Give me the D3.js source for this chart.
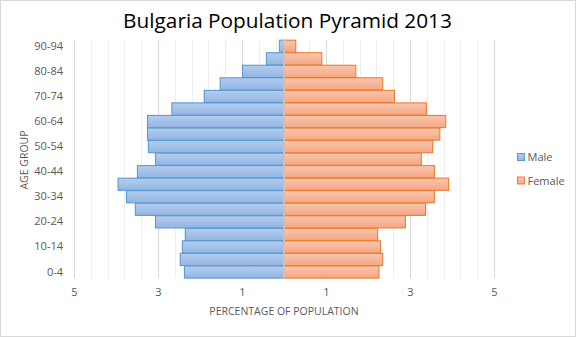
<!DOCTYPE html>
<html>
<head>
<meta charset="utf-8">
<script src="https://cdn.jsdelivr.net/npm/d3@7"></script>
<style>
  html, body { margin: 0; padding: 0; background: #fff; }
  svg { display: block; }
  text { font-family: "Open Sans", "Liberation Sans", sans-serif; }
</style>
</head>
<body>
<svg id="chart" width="576" height="337"></svg>
<script>
// Age groups, youngest first
const ageGroups = ["0-4", "5-9", "10-14", "15-19", "20-24", "25-29", "30-34", "35-39",
  "40-44", "45-49", "50-54", "55-59", "60-64", "65-69", "70-74", "75-79", "80-84", "85-89", "90-94"];

// Share of total population (%) per age group
const maleShare = [2.37, 2.47, 2.42, 2.35, 3.06, 3.54, 3.75, 3.95,
  3.49, 3.06, 3.23, 3.25, 3.25, 2.67, 1.90, 1.52, 0.99, 0.42, 0.11];
const femaleShare = [2.26, 2.35, 2.30, 2.23, 2.89, 3.37, 3.58, 3.92,
  3.58, 3.27, 3.54, 3.71, 3.85, 3.39, 2.63, 2.35, 1.71, 0.90, 0.28];

const xTicks = [-5, -3, -1, 1, 3, 5];
const seriesNames = ["Male", "Female"];

const svg = d3.select("#chart");
const W = 576, H = 337;
const plot = { left: 74, right: 494, top: 40, bottom: 278.3 };

// chart area frame
svg.append("rect").attr("x", 0.5).attr("y", 0.5).attr("width", W - 1).attr("height", H - 1)
  .attr("fill", "#fff").attr("stroke", "#d9d9d9");

const defs = svg.append("defs");
function grad(id, top, bottom) {
  const g = defs.append("linearGradient").attr("id", id)
    .attr("x1", 0).attr("y1", 0).attr("x2", 0).attr("y2", 1);
  g.append("stop").attr("offset", "0%").attr("stop-color", top);
  g.append("stop").attr("offset", "100%").attr("stop-color", bottom);
}
grad("gMale", "#b5cdee", "#93b5e3");
grad("gFemale", "#f9c6ae", "#f4a784");

const x = d3.scaleLinear().domain([-5, 5]).range([plot.left, plot.right]);
const y = d3.scaleBand().domain(ageGroups).range([plot.bottom, plot.top]).paddingInner(0.03).paddingOuter(0.015);

// minor gridlines every 0.4, major every 2
const minor = d3.range(0, 26).map(i => -5 + i * 0.4);
svg.append("g").selectAll("line").data(minor).join("line")
  .attr("x1", d => Math.round(x(d)) + 0.5).attr("x2", d => Math.round(x(d)) + 0.5)
  .attr("y1", plot.top).attr("y2", plot.bottom)
  .attr("stroke", "#eeeeee").attr("stroke-width", 1);
svg.append("g").selectAll("line").data(xTicks).join("line")
  .attr("x1", d => Math.round(x(d)) + 0.5).attr("x2", d => Math.round(x(d)) + 0.5)
  .attr("y1", plot.top).attr("y2", plot.bottom)
  .attr("stroke", "#d9d9d9").attr("stroke-width", 1);

// bars
const bars = svg.append("g");
bars.selectAll("rect.m").data(ageGroups).join("rect").attr("class", "m")
  .attr("x", (d, i) => x(-maleShare[i])).attr("width", (d, i) => x(0) - x(-maleShare[i]))
  .attr("y", d => y(d)).attr("height", y.bandwidth())
  .attr("fill", "url(#gMale)").attr("stroke", "#5b9bd5").attr("stroke-width", 1.1);
bars.selectAll("rect.f").data(ageGroups).join("rect").attr("class", "f")
  .attr("x", x(0)).attr("width", (d, i) => x(femaleShare[i]) - x(0))
  .attr("y", d => y(d)).attr("height", y.bandwidth())
  .attr("fill", "url(#gFemale)").attr("stroke", "#ed7d31").attr("stroke-width", 1.1);

// vertical axis line at zero
svg.append("line").attr("x1", x(0)).attr("x2", x(0))
  .attr("y1", plot.top).attr("y2", plot.bottom)
  .attr("stroke", "#d9d9d9").attr("stroke-width", 1.2);

const textColor = "#595959";

// x axis labels
const xAxis = d3.axisBottom(x).tickValues(xTicks).tickSize(0).tickPadding(10)
  .tickFormat(d => Math.abs(d));
const gx = svg.append("g").attr("transform", `translate(0,${plot.bottom})`).call(xAxis);
gx.select(".domain").remove();
gx.selectAll("text").attr("fill", textColor).attr("font-size", 11)
  .style("font-family", "'Open Sans', sans-serif");

// y axis labels, every other group
const yAxis = d3.axisLeft(y).tickValues(ageGroups.filter((d, i) => i % 2 === 0))
  .tickSize(0).tickPadding(11);
const gy = svg.append("g").attr("transform", `translate(${plot.left},0)`).call(yAxis);
gy.select(".domain").remove();
gy.selectAll("text").attr("fill", textColor).attr("font-size", 11)
  .style("font-family", "'Open Sans', sans-serif");

// title
svg.append("text").attr("x", 287.5).attr("y", 28).attr("text-anchor", "middle")
  .attr("font-size", 20.8).attr("fill", "#000").text("Bulgaria Population Pyramid 2013");

// axis titles
svg.append("text").attr("x", 284).attr("y", 315).attr("text-anchor", "middle")
  .attr("font-size", 10.5).attr("fill", textColor).text("PERCENTAGE OF POPULATION");
svg.append("text").attr("transform", "translate(28,160) rotate(-90)").attr("text-anchor", "middle")
  .attr("font-size", 10.5).attr("fill", textColor).text("AGE GROUP");

// legend
const legend = svg.append("g");
const lg = legend.selectAll("g").data(seriesNames).join("g")
  .attr("transform", (d, i) => `translate(517.5,${153.5 + i * 23.5})`);
lg.append("rect").attr("width", 7).attr("height", 7)
  .attr("fill", (d, i) => i === 0 ? "url(#gMale)" : "url(#gFemale)")
  .attr("stroke", (d, i) => i === 0 ? "#5b9bd5" : "#ed7d31");
lg.append("text").attr("x", 10).attr("y", 7.5).attr("font-size", 11)
  .attr("fill", textColor).text(d => d);
</script>
</body>
</html>
